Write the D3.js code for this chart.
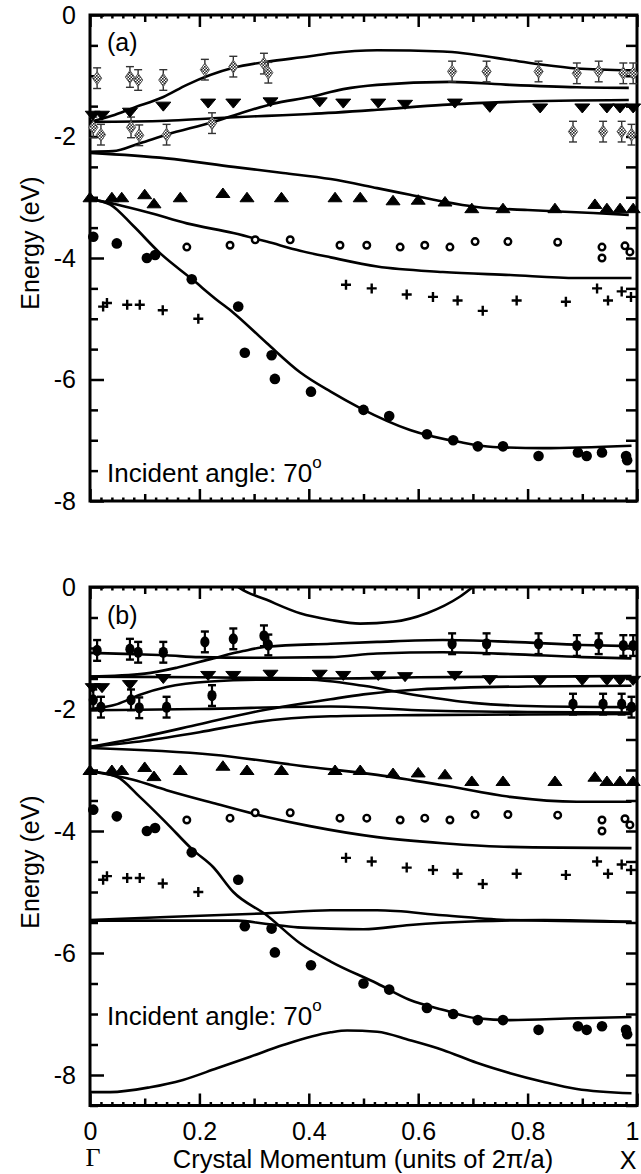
<!DOCTYPE html>
<html><head><meta charset="utf-8">
<script src="https://cdn.jsdelivr.net/npm/d3@7"></script>
<style>body{margin:0;background:#fff}svg text{font-family:"Liberation Sans",Arial,sans-serif;fill:#000}</style>
</head><body><svg id="c" width="641" height="1174"></svg>
<script>
// ---------- data ----------
const xTickValues = [0, 0.2, 0.4, 0.6, 0.8, 1];
const xTickLabels = ["0", "0.2", "0.4", "0.6", "0.8", "1"];
const yTickValues = [0, -2, -4, -6, -8];
const yTickLabels = ["0", "-2", "-4", "-6", "-8"];

// experimental points (k in units of 2pi/a, E in eV)
const diamondK = [0.013,0.006,0.02,0.073,0.088,0.075,0.09,0.134,0.14,0.21,0.223,0.262,0.318,0.326,0.662,0.725,0.82,0.89,0.93,0.975,0.993,0.883,0.938,0.972,0.99];
const diamondE = [-1.04,-1.85,-1.97,-1.02,-1.07,-1.85,-1.98,-1.07,-1.97,-0.9,-1.78,-0.85,-0.8,-0.95,-0.93,-0.93,-0.93,-0.96,-0.93,-0.96,-0.96,-1.92,-1.92,-1.92,-1.97];
const diamondErr = 0.17;
const downTriK = [0.005,0.022,0.073,0.134,0.216,0.262,0.33,0.42,0.463,0.527,0.576,0.667,0.731,0.823,0.9,0.945,0.969,0.993];
const downTriE = [-1.65,-1.65,-1.6,-1.5,-1.45,-1.45,-1.43,-1.43,-1.45,-1.45,-1.47,-1.45,-1.52,-1.53,-1.53,-1.53,-1.53,-1.53];
const upTriK = [0,0.04,0.058,0.1,0.117,0.165,0.243,0.287,0.35,0.448,0.494,0.554,0.6,0.649,0.698,0.755,0.85,0.923,0.945,0.969,0.993];
const upTriE = [-3.0,-3.0,-3.0,-2.95,-3.1,-3.0,-2.93,-3.0,-3.0,-3.0,-3.0,-3.05,-3.04,-3.07,-3.18,-3.18,-3.18,-3.11,-3.18,-3.18,-3.18];
const openCircK = [0.177,0.256,0.302,0.366,0.457,0.506,0.567,0.612,0.658,0.704,0.764,0.855,0.936,0.936,0.978,0.987];
const openCircE = [-3.82,-3.79,-3.7,-3.7,-3.79,-3.79,-3.82,-3.79,-3.82,-3.73,-3.73,-3.74,-3.82,-4.0,-3.8,-3.9];
const filledCircK = [0.006,0.049,0.104,0.119,0.186,0.271,0.283,0.332,0.338,0.404,0.5,0.547,0.616,0.664,0.709,0.755,0.82,0.892,0.908,0.936,0.98,0.982];
const filledCircE = [-3.65,-3.76,-4.0,-3.95,-4.35,-4.8,-5.56,-5.6,-5.99,-6.2,-6.5,-6.6,-6.9,-7.0,-7.1,-7.1,-7.26,-7.2,-7.26,-7.2,-7.26,-7.33];
const plusK = [0.024,0.031,0.068,0.091,0.133,0.198,0.468,0.515,0.579,0.627,0.672,0.718,0.78,0.87,0.927,0.947,0.972,0.989];
const plusE = [-4.8,-4.74,-4.77,-4.77,-4.86,-5.0,-4.44,-4.5,-4.6,-4.64,-4.7,-4.87,-4.7,-4.72,-4.5,-4.7,-4.55,-4.64];

// calculated bands, panel (a)
const bandA1 = [[0,-1.76],[0.04,-1.66],[0.079,-1.53],[0.134,-1.35],[0.177,-1.15],[0.262,-0.87],[0.323,-0.77],[0.402,-0.68],[0.44,-0.63],[0.525,-0.58],[0.645,-0.6],[0.768,-0.74],[0.828,-0.82],[0.89,-0.88],[0.99,-0.91]];
const bandA2 = [[0,-2.25],[0.042,-2.24],[0.091,-2.11],[0.14,-1.97],[0.225,-1.76],[0.274,-1.62],[0.335,-1.46],[0.402,-1.35],[0.463,-1.22],[0.525,-1.15],[0.658,-1.1],[0.768,-1.15],[0.89,-1.19],[0.985,-1.2]];
const bandA3 = [[0,-1.76],[0.14,-1.74],[0.225,-1.7],[0.323,-1.66],[0.402,-1.63],[0.525,-1.56],[0.645,-1.48],[0.768,-1.43],[0.985,-1.4]];
const bandA4 = [[0,-2.27],[0.14,-2.36],[0.262,-2.5],[0.353,-2.6],[0.44,-2.7],[0.525,-2.85],[0.585,-2.96],[0.645,-3.07],[0.707,-3.16],[0.8,-3.21],[0.92,-3.26],[0.985,-3.29]];
const bandA5 = [[0,-3.03],[0.049,-3.12],[0.11,-3.26],[0.177,-3.43],[0.262,-3.59],[0.323,-3.73],[0.384,-3.88],[0.44,-3.99],[0.525,-4.14],[0.645,-4.23],[0.768,-4.28],[0.89,-4.33],[0.99,-4.33]];
const bandA6 = [[0,-3.03],[0.037,-3.12],[0.079,-3.47],[0.128,-3.92],[0.188,-4.36],[0.232,-4.69],[0.262,-4.9],[0.323,-5.4],[0.384,-5.88],[0.44,-6.2],[0.494,-6.47],[0.585,-6.83],[0.676,-7.03],[0.737,-7.11],[0.828,-7.13],[0.99,-7.09]];

// calculated bands, panel (b)
const bandB0 = [[0.25,0.15],[0.274,-0.02],[0.323,-0.21],[0.384,-0.43],[0.44,-0.54],[0.494,-0.6],[0.554,-0.57],[0.616,-0.43],[0.676,-0.16],[0.72,0.15]];
const bandB1 = [[0,-1.08],[0.08,-1.1],[0.14,-1.12],[0.2,-1.15],[0.3,-1.16],[0.44,-1.15],[0.525,-1.09],[0.645,-1.07],[0.77,-1.1],[0.9,-1.15],[0.99,-1.17]];
const bandB2 = [[0,-1.47],[0.1,-1.42],[0.16,-1.32],[0.225,-1.17],[0.28,-1.05],[0.323,-0.98],[0.44,-0.93],[0.525,-0.9],[0.645,-0.87],[0.77,-0.9],[0.9,-0.95],[0.99,-0.97]];
const bandB3 = [[0,-1.47],[0.2,-1.48],[0.44,-1.5],[0.6,-1.48],[0.8,-1.47],[0.99,-1.46]];
const bandB4 = [[0,-2.0],[0.05,-1.92],[0.09,-1.77],[0.14,-1.64],[0.22,-1.55],[0.32,-1.52],[0.4,-1.52],[0.5,-1.62],[0.6,-1.78],[0.7,-1.9],[0.8,-1.95],[0.99,-1.97]];
const bandB5 = [[0,-2.62],[0.1,-2.45],[0.2,-2.25],[0.3,-2.05],[0.44,-1.84],[0.5,-1.76],[0.6,-1.68],[0.8,-1.63],[0.99,-1.62]];
const bandB6 = [[0,-2.02],[0.2,-2.0],[0.44,-1.96],[0.6,-2.02],[0.8,-2.05],[0.99,-2.06]];
const bandB7 = [[0,-2.62],[0.1,-2.52],[0.2,-2.38],[0.3,-2.22],[0.44,-2.12],[0.6,-2.1],[0.8,-2.09],[0.99,-2.08]];
const bandB8 = [[0,-2.64],[0.225,-2.75],[0.402,-2.95],[0.525,-3.08],[0.645,-3.25],[0.768,-3.44],[0.89,-3.52],[0.99,-3.52]];
const bandB9 = [[0,-3.02],[0.079,-3.16],[0.14,-3.33],[0.225,-3.54],[0.323,-3.77],[0.402,-3.92],[0.525,-4.1],[0.645,-4.2],[0.768,-4.26],[0.99,-4.28]];
const bandB10 = [[0,-3.02],[0.049,-3.11],[0.091,-3.44],[0.14,-3.87],[0.188,-4.31],[0.225,-4.59],[0.262,-5.0],[0.323,-5.38],[0.384,-5.84],[0.44,-6.14],[0.525,-6.5],[0.585,-6.77],[0.645,-6.93],[0.707,-7.07],[0.768,-7.1],[0.89,-7.07],[0.99,-7.05]];
const bandB11 = [[0,-5.46],[0.14,-5.41],[0.323,-5.35],[0.44,-5.3],[0.525,-5.3],[0.645,-5.38],[0.768,-5.46],[0.99,-5.49]];
const bandB12 = [[0,-5.47],[0.2,-5.47],[0.27,-5.47],[0.32,-5.52],[0.38,-5.58],[0.44,-5.6],[0.5,-5.61],[0.585,-5.54],[0.707,-5.48],[0.83,-5.46],[0.99,-5.49]];
const bandB13 = [[0,-8.28],[0.037,-8.28],[0.11,-8.2],[0.17,-8.08],[0.232,-7.89],[0.293,-7.7],[0.353,-7.51],[0.44,-7.3],[0.47,-7.27],[0.525,-7.29],[0.585,-7.43],[0.645,-7.59],[0.707,-7.8],[0.768,-7.97],[0.828,-8.11],[0.89,-8.23],[0.99,-8.3]];

const bandsA = [bandA1, bandA2, bandA3, bandA4, bandA5, bandA6];
const bandsB = [bandB0, bandB1, bandB2, bandB3, bandB4, bandB5, bandB6, bandB7, bandB8, bandB9, bandB10, bandB11, bandB12, bandB13];

// ---------- drawing ----------
const svg = d3.select("#c");
const x = d3.scaleLinear().domain([0, 1]).range([90, 637]);
const defs = svg.append("defs");
const pat = defs.append("pattern").attr("id", "hatch").attr("width", 3).attr("height", 3).attr("patternUnits", "userSpaceOnUse");
pat.append("rect").attr("width", 3).attr("height", 3).attr("fill", "#fff");
pat.append("rect").attr("width", 1.6).attr("height", 1.6).attr("fill", "#222");
pat.append("rect").attr("x", 1.5).attr("y", 1.5).attr("width", 1.6).attr("height", 1.6).attr("fill", "#222");

function zip(ks, es) { return ks.map((k, i) => [k, es[i]]); }

function panel(id, y, yMin, bands, label, labelY, incidentY, energyY, showX, darkDiamonds) {
  const top = y(0), bot = y(yMin), left = x(0), right = x(1);
  const g = svg.append("g");
  defs.append("clipPath").attr("id", "clip" + id).append("rect")
    .attr("x", left).attr("y", top).attr("width", right - left).attr("height", bot - top);

  const minorY = d3.range(0, yMin - 0.001, -0.5).filter(v => Math.abs(v % 2) > 0.01);
  const styleAx = s => { s.select(".domain").remove(); s.selectAll("line").attr("stroke-width", 2.5); s.attr("font-size", 25).attr("font-family", '"Liberation Sans", Arial, sans-serif'); };
  g.append("g").attr("transform", `translate(${left},0)`)
    .call(d3.axisLeft(y).tickValues(yTickValues).tickSizeInner(-14).tickSizeOuter(0).tickPadding(14)
      .tickFormat((d, i) => yTickLabels[i])).call(styleAx);
  g.append("g").attr("transform", `translate(${left},0)`)
    .call(d3.axisLeft(y).tickValues(minorY).tickSizeInner(-8).tickSizeOuter(0).tickFormat("")).call(styleAx);
  g.append("g").attr("transform", `translate(${right},0)`)
    .call(d3.axisRight(y).tickValues(yTickValues.concat(minorY)).tickSizeInner(-11).tickSizeOuter(0).tickFormat("")).call(styleAx);

  const minorX = d3.range(0.02, 1, 0.02).filter(v => Math.abs(v * 10 - Math.round(v * 10)) > 0.01);
  const medX = [0.1, 0.3, 0.5, 0.7, 0.9];
  [[top, d3.axisTop], [bot, d3.axisBottom]].forEach(([yy, ax]) => {
    g.append("g").attr("transform", `translate(0,${yy})`)
      .call(ax(x).tickValues(minorX).tickSizeInner(-3.5).tickSizeOuter(0).tickFormat("")).call(styleAx);
    g.append("g").attr("transform", `translate(0,${yy})`)
      .call(ax(x).tickValues(medX).tickSizeInner(-7).tickSizeOuter(0).tickFormat("")).call(styleAx);
    const showLab = showX && ax === d3.axisBottom;
    const ag = g.append("g").attr("transform", `translate(0,${yy})`)
      .call(ax(x).tickValues(xTickValues).tickSizeInner(-12).tickSizeOuter(0).tickPadding(17)
        .tickFormat((d, i) => showLab ? xTickLabels[i] : "")).call(styleAx);
    ag.selectAll("text").filter(d => d === 1).attr("dx", -5);
  });

  g.append("rect").attr("x", left).attr("y", top).attr("width", right - left).attr("height", bot - top)
    .attr("fill", "none").attr("stroke", "#000").attr("stroke-width", 3);

  const line = d3.line().x(d => x(d[0])).y(d => y(d[1])).curve(d3.curveMonotoneX);
  g.append("g").attr("clip-path", `url(#clip${id})`).selectAll("path").data(bands).join("path")
    .attr("d", line).attr("fill", "none").attr("stroke", "#000").attr("stroke-width", 2.6);

  const m = g.append("g");
  zip(diamondK, diamondE).forEach(([k, e]) => {
    const cx = x(k), cy = y(e), y1 = y(e + diamondErr), y2 = y(e - diamondErr);
    const col = darkDiamonds ? "#000" : "#333";
    m.append("line").attr("x1", cx).attr("x2", cx).attr("y1", y1).attr("y2", y2).attr("stroke", col).attr("stroke-width", darkDiamonds ? 2.2 : 1.4);
    [y1, y2].forEach(yy => m.append("line").attr("x1", cx - 4).attr("x2", cx + 4).attr("y1", yy).attr("y2", yy)
      .attr("stroke", col).attr("stroke-width", darkDiamonds ? 2.4 : 1.4));
    if (darkDiamonds) {
      m.append("ellipse").attr("cx", cx).attr("cy", cy).attr("rx", 4.6).attr("ry", 5.6).attr("fill", "#000");
    } else {
      m.append("path").attr("d", `M${cx},${cy - 6.5}L${cx + 4.6},${cy}L${cx},${cy + 6.5}L${cx - 4.6},${cy}Z`)
        .attr("fill", "url(#hatch)").attr("stroke", "#555").attr("stroke-width", 1);
    }
  });
  zip(downTriK, downTriE).forEach(([k, e]) => {
    const cx = x(k), cy = y(e);
    m.append("path").attr("d", `M${cx - 7.5},${cy - 4}L${cx + 7.5},${cy - 4}L${cx},${cy + 5}Z`).attr("fill", "#000").attr("stroke", "#000").attr("stroke-width", 1).attr("stroke-linejoin", "round");
  });
  zip(upTriK, upTriE).forEach(([k, e]) => {
    const cx = x(k), cy = y(e);
    m.append("path").attr("d", `M${cx - 7},${cy + 4.5}L${cx + 7},${cy + 4.5}L${cx},${cy - 5}Z`).attr("fill", "#000").attr("stroke", "#000").attr("stroke-width", 1).attr("stroke-linejoin", "round");
  });
  m.selectAll(".oc").data(zip(openCircK, openCircE)).join("circle").attr("class", "oc")
    .attr("cx", d => x(d[0])).attr("cy", d => y(d[1])).attr("r", 3.3)
    .attr("fill", "#fff").attr("stroke", "#000").attr("stroke-width", 2.4);
  m.selectAll(".fc").data(zip(filledCircK, filledCircE)).join("circle").attr("class", "fc")
    .attr("cx", d => x(d[0])).attr("cy", d => y(d[1])).attr("r", 5.3).attr("fill", "#000");
  zip(plusK, plusE).forEach(([k, e]) => {
    const cx = x(k), cy = y(e);
    m.append("path").attr("d", `M${cx - 5},${cy}H${cx + 5}M${cx},${cy - 5}V${cy + 5}`).attr("stroke", "#000").attr("stroke-width", 2.4);
  });

  g.append("text").attr("x", 107).attr("y", labelY).attr("font-size", 25).text(label);
  const t = g.append("text").attr("x", 107).attr("y", incidentY).attr("font-size", 26);
  t.append("tspan").text("Incident angle: 70");
  t.append("tspan").attr("font-size", 17).attr("dy", -14).text("o");
  g.append("text").attr("transform", `translate(39,${energyY}) rotate(-90)`)
    .attr("text-anchor", "middle").attr("font-size", 25).text("Energy (eV)");
}

const yA = d3.scaleLinear().domain([-8, 0]).range([501, 15]);
const yB = d3.scaleLinear().domain([-8.5, 0]).range([1105.5, 587]);
panel("a", yA, -8, bandsA, "(a)", 51, 482, 243, false, false);
panel("b", yB, -8.5, bandsB, "(b)", 624, 1025, 862, true, true);

svg.append("text").attr("x", 93).attr("y", 1166).attr("text-anchor", "middle")
  .style("font-family", '"Liberation Serif", "Times New Roman", serif').attr("font-size", 26).text("Γ");
svg.append("text").attr("x", 628).attr("y", 1169).attr("text-anchor", "middle").attr("font-size", 25).text("X");
svg.append("text").attr("x", 363).attr("y", 1168).attr("text-anchor", "middle").attr("font-size", 25.5)
  .text("Crystal Momentum (units of 2π/a)");
</script></body></html>
